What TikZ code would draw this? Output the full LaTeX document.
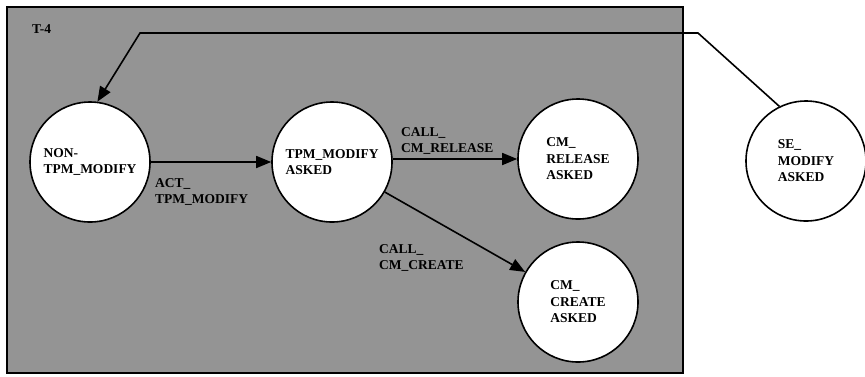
\documentclass[tikz,border=0pt]{standalone}
\usepackage{fontspec}
\setmainfont{Liberation Serif}
\usetikzlibrary{arrows.meta}

\definecolor{panelgray}{RGB}{148,148,148}
\tikzset{
  state/.style={circle, draw, line width=1.6pt, fill=white, minimum size=120pt,
    inner sep=0pt, align=left},
  lbl/.style={inner sep=0pt, align=left, anchor=north west},
  flow/.style={line width=1.6pt, -{Triangle[length=15pt,width=12pt]}},
}

\begin{document}
\begin{tikzpicture}[x=1pt, y=-1pt, font=\bfseries\fontsize{13.5}{16.5}\selectfont]
  \useasboundingbox (0,0) rectangle (865,376);
  % shaded panel T-4
  \draw[line width=1.6pt, fill=panelgray] (7,7) rectangle (683,373);
  \node[lbl] (tfour) at (32,24) {T-4};
  % states
  \node[state] (nontpm) at (90,162) {NON-\\TPM\_MODIFY};
  \node[state] (tpmask) at (332,162) {TPM\_MODIFY\\ASKED};
  \node[state] (cmrel) at (578,159) {CM\_\\RELEASE\\ASKED};
  \node[state] (cmcre) at (578,302) {CM\_\\CREATE\\ASKED};
  \node[state] (semod) at (806,161) {SE\_\\MODIFY\\ASKED};
  % transitions
  \draw[flow] (nontpm) -- (tpmask);
  \draw[flow] (tpmask.east |- cmrel.west) -- (cmrel.west);
  \draw[flow] (tpmask) -- (cmcre);
  \coordinate (turnr) at (698,33);
  \coordinate (turnl) at (140,33);
  \draw[flow] (semod.116) -- (turnr) -- (turnl) -- (nontpm.83);
  % transition labels
  \node[lbl] (lact) at (155,178) {ACT\_\\TPM\_MODIFY};
  \node[lbl] (lrel) at (401,127) {CALL\_\\CM\_RELEASE};
  \node[lbl] (lcre) at (379,244) {CALL\_\\CM\_CREATE};
\end{tikzpicture}
\end{document}
